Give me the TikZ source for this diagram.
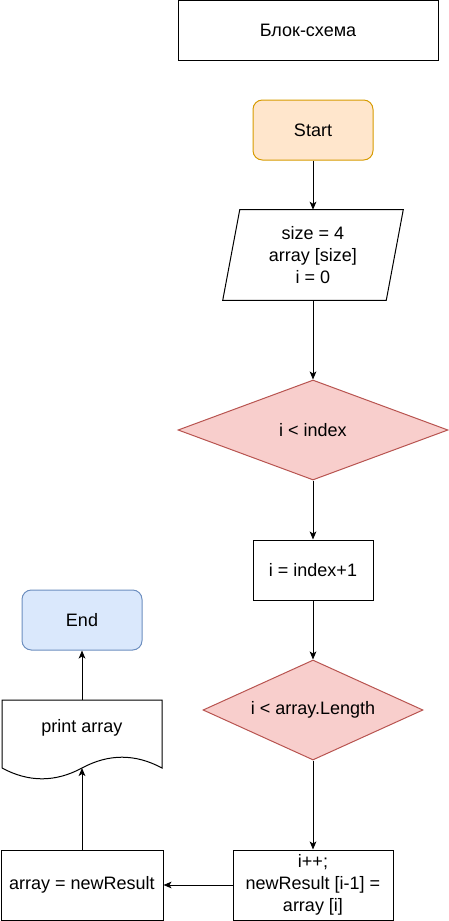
\documentclass[tikz,border=0pt]{standalone}
\usepackage{fontspec}
\setmainfont{Liberation Sans}
\usepackage{xcolor}
\usepackage{tikz}
\usetikzlibrary{shapes,arrows,positioning,calc,arrows.meta}
\definecolor{startfill}{HTML}{FFE6CC}
\definecolor{startline}{HTML}{D79B00}
\definecolor{condfill}{HTML}{F8CECC}
\definecolor{condline}{HTML}{B85450}
\definecolor{endfill}{HTML}{DAE8FC}
\definecolor{endline}{HTML}{6C8EBF}
\tikzstyle{arrow} = [-{Stealth[length=6pt,width=5pt,inset=1.5pt]}, line width=0.75pt]
\tikzstyle{block} = [draw, line width=0.75pt, minimum width=90pt, minimum height=45pt, align=center, inner sep=0pt]
\tikzstyle{term} = [block, rounded corners=7pt]
\tikzstyle{cond} = [diamond, draw=condline, fill=condfill, line width=0.75pt, inner sep=0pt, shape aspect=2.7, align=center]

\begin{document}
\begin{tikzpicture}[x=0.75pt, y=-0.75pt, font=\fontsize{13.5}{16.5}\selectfont]
    \useasboundingbox (0,0) rectangle (449,921);

    % Title
    \node[block, minimum width=195pt] (title) at (308,30) {Блок-схема};

    % Start
    \node[term, draw=startline, fill=startfill] (start) at (313,130) {Start};

    % Input
    \node[minimum width=122.25pt, minimum height=67.5pt, align=center, inner sep=0pt] (input) at (313,255) {size = 4\\array [size]\\i = 0};
    \draw[line width=0.75pt] ($(input.north west)+(8.5,0)$) -- ($(input.north east)+(8.5,0)$)
        -- ($(input.south east)+(-8.5,0)$) -- ($(input.south west)+(-8.5,0)$) -- cycle;
    \draw[arrow] (start) -- (input);

    % First condition
    \node[cond, minimum width=202.5pt, minimum height=75pt] (cond1) at (313,430) {i < index};
    \draw[arrow] (input) -- (cond1);

    % Index step
    \node[block] (step1) at (313,570) {i = index+1};
    \draw[arrow] (cond1) -- (step1);

    % Second condition
    \node[cond, minimum width=165pt, minimum height=75pt] (cond2) at (313,710) {i < array.Length};
    \draw[arrow] (step1) -- (cond2);

    % Loop body
    \node[block, minimum width=120pt, minimum height=52.5pt] (body) at (313,885) {i++;\\newResult [i-1] =\\array [i]};
    \draw[arrow] (cond2) -- (body);

    % Copy result
    \node[block, minimum width=121.5pt, minimum height=52.5pt] (result) at (82,885) {array = newResult};
    \draw[arrow] (body) -- (result);

    % Print
    \node[minimum width=120pt, minimum height=42pt, inner sep=0pt] (print) at (82,728) {print array};
    \draw[line width=0.75pt] (2,768) -- (2,700) -- (162,700) -- (162,768)
        .. controls (135.3,753.6) and (108.7,753.6) .. (82,768)
        .. controls (55.3,782.4) and (28.7,782.4) .. (2,768);
    \coordinate (printbot) at (82,768);
    \draw[arrow] (result) -- (printbot);

    % End
    \node[term, draw=endline, fill=endfill] (end) at (82,620) {End};
    \draw[arrow] (print) -- (end);
\end{tikzpicture}
\end{document}
